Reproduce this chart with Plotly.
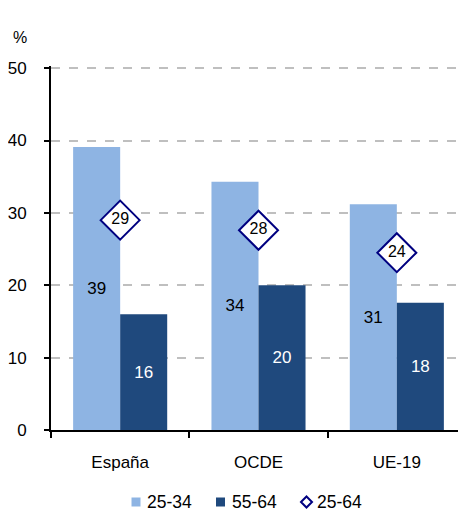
import plotly.graph_objects as go

# datos
paises = ["España", "OCDE", "UE-19"]
edad_25_34 = [39.1, 34.3, 31.2]
edad_55_64 = [16.0, 20.0, 17.6]
edad_25_64 = [29.0, 27.6, 24.5]
etiq_25_34 = ["39", "34", "31"]
etiq_55_64 = ["16", "20", "18"]
etiq_25_64 = ["29", "28", "24"]
series = ["25-34", "55-64", "25-64"]
ticks_y = [0, 10, 20, 30, 40, 50]

fuente = "Arial, Liberation Sans, sans-serif"
azul_claro = "#8EB4E3"
azul_oscuro = "#1F497D"
marino = "#000080"

# la página tiene 8px de margen en el body: lo descuento aquí
ANCHO, ALTO = 458, 503
M_IZQ, M_SUP, M_INF = 43, 58, 81
ancho_plot = ANCHO - M_IZQ
alto_plot = ALTO - M_SUP - M_INF

fig = go.Figure()

fig.add_trace(go.Bar(
    x=paises, y=edad_25_34, name=series[0], showlegend=False,
    marker=dict(color=azul_claro, line=dict(width=0)),
    text=etiq_25_34, textposition="inside", insidetextanchor="middle",
    textfont=dict(color="black", size=17, family=fuente), textangle=0,
))
fig.add_trace(go.Bar(
    x=paises, y=edad_55_64, name=series[1], showlegend=False,
    marker=dict(color=azul_oscuro, line=dict(width=0)),
    text=etiq_55_64, textposition="inside", insidetextanchor="middle",
    textfont=dict(color="white", size=17, family=fuente), textangle=0,
))
# rombos 25-64
fig.add_trace(go.Scatter(
    x=paises, y=edad_25_64, mode="markers+text", name=series[2], showlegend=False,
    marker=dict(symbol="diamond", size=30, color="white", line=dict(color=marino, width=2)),
    text=etiq_25_64, textposition="middle center",
    textfont=dict(color="black", size=16, family=fuente),
))

fig.add_annotation(
    x=0, y=1, xref="paper", yref="paper", text="%", showarrow=False,
    xanchor="center", yanchor="middle", xshift=-31, yshift=29,
    font=dict(size=16, color="black", family=fuente),
)

# leyenda dibujada a mano (símbolos pegados al texto, como en el original)
ley_y = -72 / alto_plot
simbolos_x = [85, 169.5, 255.5]   # px desde el eje y
textos_x = [95, 180, 265]
for i, nombre in enumerate(series):
    cx = simbolos_x[i] / ancho_plot
    if i < 2:
        fig.add_shape(
            type="rect", xref="paper", yref="paper", xsizemode="pixel", ysizemode="pixel",
            xanchor=cx, yanchor=ley_y, x0=-4.5, x1=4.5, y0=-4.5, y1=4.5,
            fillcolor=[azul_claro, azul_oscuro][i], line=dict(width=0),
        )
    else:
        fig.add_shape(
            type="path", xref="paper", yref="paper", xsizemode="pixel", ysizemode="pixel",
            xanchor=cx, yanchor=ley_y, path="M -5.5 0 L 0 5.5 L 5.5 0 L 0 -5.5 Z",
            fillcolor="white", line=dict(color=marino, width=2),
        )
    fig.add_annotation(
        x=textos_x[i] / ancho_plot, y=ley_y, xref="paper", yref="paper",
        text=nombre, showarrow=False, xanchor="left", yanchor="middle",
        font=dict(size=17.5, color="black", family=fuente), borderpad=0,
    )

fig.update_layout(
    width=ANCHO, height=ALTO,
    margin=dict(l=M_IZQ, r=0, t=M_SUP, b=M_INF, pad=0),
    paper_bgcolor="white", plot_bgcolor="white",
    font=dict(family=fuente, color="black", size=17),
    barmode="group", bargap=0.32, bargroupgap=0,
    showlegend=False,
)

fig.update_xaxes(
    showline=True, linecolor="black", linewidth=2,
    ticks="outside", tickson="boundaries", ticklen=6, tickcolor="black", tickwidth=2,
    ticklabelstandoff=16, tickfont=dict(size=17),
    showgrid=False, zeroline=False, automargin=False,
)
# el tope del eje queda un poco por encima de 50 para que se vea la rejilla de 50
fig.update_yaxes(
    range=[0, 50.3], tickvals=ticks_y,
    showline=True, linecolor="black", linewidth=2,
    ticks="outside", ticklen=5, tickcolor="black", tickwidth=2,
    ticklabelstandoff=14, tickfont=dict(size=17),
    showgrid=True, gridcolor="#BFBFBF", griddash="dash", gridwidth=1.5,
    zeroline=False, automargin=False,
)

fig.write_html("out.html")
